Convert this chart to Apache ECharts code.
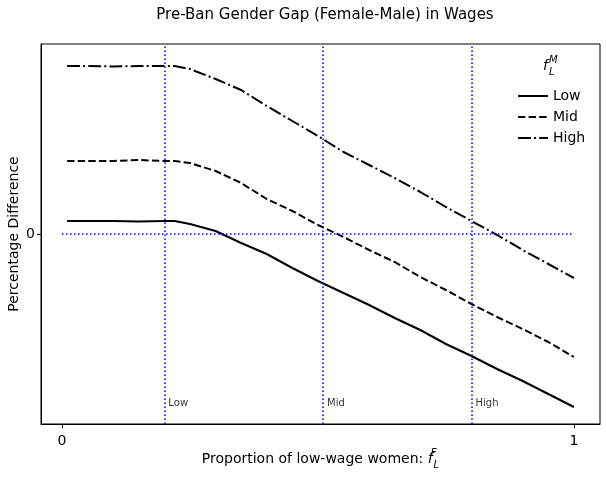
<!DOCTYPE html>
<html><head><meta charset="utf-8">
<script src="https://cdn.jsdelivr.net/npm/echarts@6/dist/echarts.min.js"></script>
<style>html,body{margin:0;padding:0;background:#fff}#c{width:606px;height:479px}</style>
</head><body><div id="c"></div>
<script>
// Proportion of low-wage women (x)
const fL = [0.01,0.05,0.10,0.15,0.20,0.22,0.25,0.30,0.35,0.40,0.45,0.50,0.55,0.60,0.65,0.70,0.75,0.80,0.85,0.90,0.95,1.00];
// Gender gap (arbitrary units, 0 = no gap) by male low-wage share f_L^M
const lowVals  = [0.13,0.13,0.13,0.125,0.13,0.13,0.10,0.03,-0.09,-0.20,-0.34,-0.47,-0.59,-0.71,-0.84,-0.96,-1.10,-1.22,-1.35,-1.47,-1.60,-1.73];
const midVals  = [0.73,0.73,0.73,0.74,0.73,0.73,0.71,0.63,0.51,0.35,0.23,0.09,-0.03,-0.16,-0.28,-0.43,-0.56,-0.70,-0.83,-0.95,-1.08,-1.23];
const highVals = [1.68,1.68,1.675,1.68,1.68,1.68,1.65,1.55,1.44,1.28,1.13,0.98,0.82,0.69,0.56,0.42,0.27,0.13,-0.01,-0.16,-0.30,-0.44];
const seriesNames = ['Low','Mid','High'];
// reference lines (f_L^F scenarios)
const refX = [0.2, 0.51, 0.8];
const refLabels = ['Low','Mid','High'];
const xTicks = [0, 1];
const yTicks = [0];

const FONT = 'DejaVu Sans';
const pair = v => fL.map((x,i)=>[x, v[i]]);
const dashes = ['solid', [7.4,3.2], [12.8,3.2,2,3.2]];
const allVals = [lowVals, midVals, highVals];

const series = allVals.map((v,k)=>({
  name: seriesNames[k], type:'line', data: pair(v), symbol:'none', smooth:false,
  lineStyle:{color:'#000', width:2, type: dashes[k]}, itemStyle:{color:'#000'}, z:3
}));
series.push({
  name:'ref', type:'line', data:[], silent:true,
  markLine:{
    silent:true, symbol:'none', label:{show:false},
    lineStyle:{color:'#0000ff', width:1.5, type:[1.5,2.5]},
    data: refX.map(x=>({xAxis:x})).concat([[{coord:[0,0]},{coord:[1,0]}]])
  }
});
series.push({
  name:'refLabel', type:'scatter', symbolSize:0, silent:true,
  data: refX.map((x,i)=>({value:[x,-1.69], name:refLabels[i]})),
  label:{show:true, position:'right', distance:4, formatter:p=>p.name, fontFamily:FONT, fontSize:10, color:'#000'}
});

const richSS = (colorKey)=>({
  i:{fontFamily:FONT, fontStyle:'italic', fontSize:14, lineHeight:22, padding:[0,1,0,0], [colorKey]:'#000'},
  sup:{fontFamily:FONT, fontStyle:'italic', fontSize:10, verticalAlign:'top', width:0, [colorKey]:'#000'},
  sub:{fontFamily:FONT, fontStyle:'italic', fontSize:10, verticalAlign:'bottom', [colorKey]:'#000'}
});

const chart = echarts.init(document.getElementById('c'), null, {renderer:'canvas'});
chart.setOption({
  animation:false,
  backgroundColor:'#fff',
  title:{text:'Pre-Ban Gender Gap (Female-Male) in Wages', left:320, textAlign:'center', top:3,
    textStyle:{fontFamily:FONT, fontSize:15, fontWeight:'normal', color:'#000'}},
  grid:{left:41, right:6, top:44, bottom:55, show:true, borderColor:'#000', borderWidth:1,
    containLabel:false, outerBoundsMode:'none'},
  legend:{
    data:seriesNames, orient:'vertical', left:512, top:84, itemWidth:30, itemHeight:14, itemGap:7,
    textStyle:{fontFamily:FONT, fontSize:14, color:'#000'}, selectedMode:false,
    itemStyle:{color:'rgba(0,0,0,0)', borderColor:'rgba(0,0,0,0)', borderWidth:0, opacity:0}
  },
  graphic:[{
    type:'text', left:543, top:55,
    style:{text:'{i|f}{sup|M}{sub|L}', rich:richSS('fill')}
  }],
  xAxis:{type:'value', min:-0.041, max:1.051,
    name:'Proportion of low-wage women: {i|f}{sup|F}{sub|L}', nameLocation:'middle', nameGap:24,
    nameMoveOverlap:false,
    nameTextStyle:{fontFamily:FONT, fontSize:14, color:'#000', rich:richSS('color')},
    axisLine:{show:true, onZero:false, lineStyle:{color:'#000', width:1}},
    axisTick:{show:true, length:4, lineStyle:{color:'#000'}, customValues:xTicks},
    axisLabel:{fontFamily:FONT, fontSize:14, color:'#000', margin:10, customValues:xTicks},
    splitLine:{show:false}
  },
  yAxis:{type:'value', min:-1.9, max:1.9,
    name:'Percentage Difference', nameLocation:'middle', nameGap:20, nameRotate:90,
    nameMoveOverlap:false,
    nameTextStyle:{fontFamily:FONT, fontSize:14, color:'#000'},
    axisLine:{show:true, onZero:false, lineStyle:{color:'#000', width:1}},
    axisTick:{show:true, length:4, lineStyle:{color:'#000'}, customValues:yTicks},
    axisLabel:{fontFamily:FONT, fontSize:14, color:'#000', margin:6, customValues:yTicks},
    splitLine:{show:false}
  },
  series: series
});
</script>
</body></html>
